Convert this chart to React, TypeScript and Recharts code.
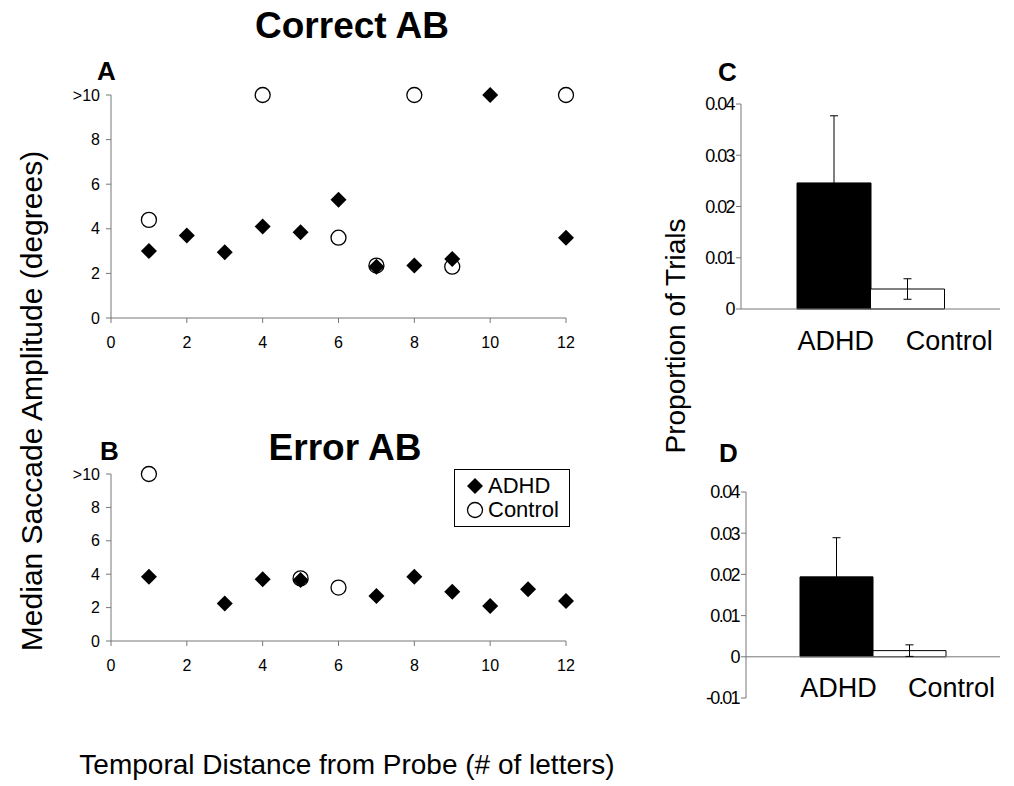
import React from 'react'
import {
  ScatterChart,
  Scatter,
  BarChart,
  Bar,
  Cell,
  ErrorBar,
  XAxis,
  YAxis,
  Legend,
  ReferenceLine,
} from 'recharts'

const FONT = "'Liberation Sans', Arial, Helvetica, sans-serif"

// temporal distance from probe (# of letters)
const distances = [1, 2, 3, 4, 5, 6, 7, 8, 9, 10, 11, 12]

// median saccade amplitude (degrees), null = no point; 10 means ">10"
const correctAdhd = [3.0, 3.7, 2.95, 4.1, 3.85, 5.3, 2.3, 2.35, 2.65, 10, null, 3.6]
const correctControl = [4.4, null, null, 10, null, 3.6, 2.35, 10, 2.3, null, null, 10]
const errorAdhd = [3.85, null, 2.25, 3.7, 3.65, null, 2.7, 3.85, 2.95, 2.1, 3.1, 2.4]
const errorControl = [10, null, null, null, 3.75, 3.2, null, null, null, null, null, null]

const xTicks = [0, 2, 4, 6, 8, 10, 12]
const yTicks = [0, 2, 4, 6, 8, 10]

// proportion of trials
const groups = ['ADHD', 'Control']
const propCorrect = [0.0246, 0.0039]
const errCorrect = [0.0131, 0.002]
const propError = [0.0194, 0.0015]
const errError = [0.0095, 0.0014]
const propTicksC = [0, 0.01, 0.02, 0.03, 0.04]
const propTicksD = [-0.01, 0, 0.01, 0.02, 0.03, 0.04]

const toPoints = (vals: (number | null)[]) =>
  distances
    .map((x, i) => ({ x, y: vals[i] }))
    .filter(p => p.y !== null)

const toBars = (vals: number[], errs: number[]) =>
  groups.map((name, i) => ({ name, value: vals[i], err: errs[i] }))

const Diamond = (props: any) => {
  const { cx, cy } = props
  const r = 8
  return (
    <path
      d={`M${cx},${cy - r} L${cx + r},${cy} L${cx},${cy + r} L${cx - r},${cy} Z`}
      fill="#000"
    />
  )
}

const Ring = (props: any) => {
  const { cx, cy } = props
  return <circle cx={cx} cy={cy} r={7.5} fill="#fff" stroke="#000" strokeWidth={1.3} />
}

const axisStroke = '#777'
const tickStyle = { fill: '#000', fontSize: 16, fontFamily: FONT }

const LegendBox = () => (
  <div
    style={{
      border: '1px solid #000',
      padding: '4px 8px 4px 10px',
      fontFamily: FONT,
      fontSize: 22,
      lineHeight: '24px',
      background: '#fff',
      width: 96,
    }}
  >
    <div style={{ display: 'flex', alignItems: 'center' }}>
      <svg width={20} height={20}>
        <Diamond cx={10} cy={10} />
      </svg>
      <span style={{ marginLeft: 3 }}>ADHD</span>
    </div>
    <div style={{ display: 'flex', alignItems: 'center' }}>
      <svg width={20} height={20}>
        <Ring cx={10} cy={10} />
      </svg>
      <span style={{ marginLeft: 3 }}>Control</span>
    </div>
  </div>
)

function SaccadePanel({ adhd, control, top, height, showLegend }: any) {
  return (
    <div style={{ position: 'absolute', left: 60, top }}>
      <ScatterChart
        width={540}
        height={height}
        margin={{ top: 15, right: 34, bottom: 2, left: 0 }}
      >
        <XAxis
          type="number"
          dataKey="x"
          domain={[0, 12]}
          ticks={xTicks}
          height={30}
          stroke={axisStroke}
          tickSize={5}
          tickMargin={14}
          fontSize={16}
          tick={tickStyle}
        />
        <YAxis
          type="number"
          dataKey="y"
          domain={[0, 10]}
          ticks={yTicks}
          width={51}
          stroke={axisStroke}
          tickSize={5}
          tickMargin={6}
          fontSize={16}
          tick={tickStyle}
          tickFormatter={(v: number) => (v === 10 ? '>10' : String(v))}
        />
        <Scatter data={toPoints(control)} shape={<Ring />} isAnimationActive={false} />
        <Scatter data={toPoints(adhd)} shape={<Diamond />} isAnimationActive={false} />
        {showLegend && (
          <Legend
            content={<LegendBox />}
            wrapperStyle={{ position: 'absolute', left: 394, top: 10, width: 'auto' }}
          />
        )}
      </ScatterChart>
    </div>
  )
}

const makeGroupTick = (offset: number, shifts: number[]) => (props: any) => {
  const { x, y, payload, index } = props
  return (
    <text
      x={x + shifts[index]}
      y={y + offset}
      textAnchor="middle"
      fontSize={27}
      fontFamily={FONT}
      fill="#000"
    >
      {payload.value}
    </text>
  )
}

const propTickStyle = { fill: '#000', fontSize: 18, fontFamily: FONT, letterSpacing: -1.6 }
const fmtProp = (v: number) => (v === 0 ? '0' : v.toFixed(2))

function ProportionPanel({ vals, errs, ticks, domain, top, height, marginTop, yWidth, pad, zeroLine }: any) {
  const data = toBars(vals, errs)
  return (
    <div style={{ position: 'absolute', left: 690, top }}>
      <BarChart
        width={320}
        height={height}
        data={data}
        barCategoryGap={0}
        margin={{ top: marginTop, right: 10, bottom: zeroLine ? 0 : 1, left: 0 }}
      >
        <XAxis
          dataKey="name"
          padding={{ left: pad, right: pad }}
          height={zeroLine ? 22 : 80}
          tickLine={false}
          tickSize={0}
          tickMargin={0}
          axisLine={zeroLine ? false : { stroke: axisStroke }}
          tick={makeGroupTick(zeroLine ? -1 : 41, [2, 42])}
        />
        <YAxis
          domain={domain}
          ticks={ticks}
          width={yWidth}
          stroke={axisStroke}
          tickSize={5}
          tickMargin={2}
          fontSize={18}
          tick={propTickStyle}
          tickFormatter={fmtProp}
        />
        {zeroLine && <ReferenceLine y={0} stroke={axisStroke} />}
        <Bar dataKey="value" stroke="#000" strokeWidth={1} isAnimationActive={false}>
          {data.map((d, i) => (
            <Cell key={d.name} fill={i === 0 ? '#000' : '#fff'} />
          ))}
          <ErrorBar dataKey="err" width={4} stroke="#000" strokeWidth={1} />
        </Bar>
      </BarChart>
    </div>
  )
}

const textBase: React.CSSProperties = {
  position: 'absolute',
  fontFamily: FONT,
  color: '#000',
  whiteSpace: 'nowrap',
  lineHeight: 1,
}

export default function App() {
  return (
    <div
      style={{
        position: 'absolute',
        left: 0,
        top: 0,
        width: 1014,
        height: 786,
        background: '#fff',
        overflow: 'hidden',
        fontFamily: FONT,
      }}
    >
      <SaccadePanel adhd={correctAdhd} control={correctControl} top={80} height={270} />
      <SaccadePanel adhd={errorAdhd} control={errorControl} top={459} height={272} showLegend />

      <ProportionPanel
        vals={propCorrect}
        errs={errCorrect}
        ticks={propTicksC}
        domain={[0, 0.04]}
        top={60}
        height={330}
        marginTop={44}
        yWidth={51}
        pad={56}
      />
      <ProportionPanel
        vals={propError}
        errs={errError}
        ticks={propTicksD}
        domain={[-0.01, 0.04]}
        top={450}
        height={270}
        marginTop={42}
        yWidth={56}
        pad={54}
        zeroLine
      />

      <div style={{ ...textBase, left: 352, top: 25, transform: 'translate(-50%,-50%)', fontSize: 37, fontWeight: 'bold' }}>
        Correct AB
      </div>
      <div style={{ ...textBase, left: 345, top: 447, transform: 'translate(-50%,-50%)', fontSize: 37, fontWeight: 'bold' }}>
        Error AB
      </div>

      <div style={{ ...textBase, left: 97, top: 58, fontSize: 26, fontWeight: 'bold' }}>A</div>
      <div style={{ ...textBase, left: 100, top: 438, fontSize: 26, fontWeight: 'bold' }}>B</div>
      <div style={{ ...textBase, left: 718, top: 59, fontSize: 26, fontWeight: 'bold' }}>C</div>
      <div style={{ ...textBase, left: 719, top: 440, fontSize: 26, fontWeight: 'bold' }}>D</div>

      <div style={{ ...textBase, left: 32, top: 401, transform: 'translate(-50%,-50%) rotate(-90deg)', fontSize: 30 }}>
        Median Saccade Amplitude (degrees)
      </div>
      <div style={{ ...textBase, left: 676, top: 336, transform: 'translate(-50%,-50%) rotate(-90deg)', fontSize: 28 }}>
        Proportion of Trials
      </div>
      <div style={{ ...textBase, left: 347, top: 765, transform: 'translate(-50%,-50%)', fontSize: 28 }}>
        Temporal Distance from Probe (# of letters)
      </div>
    </div>
  )
}
